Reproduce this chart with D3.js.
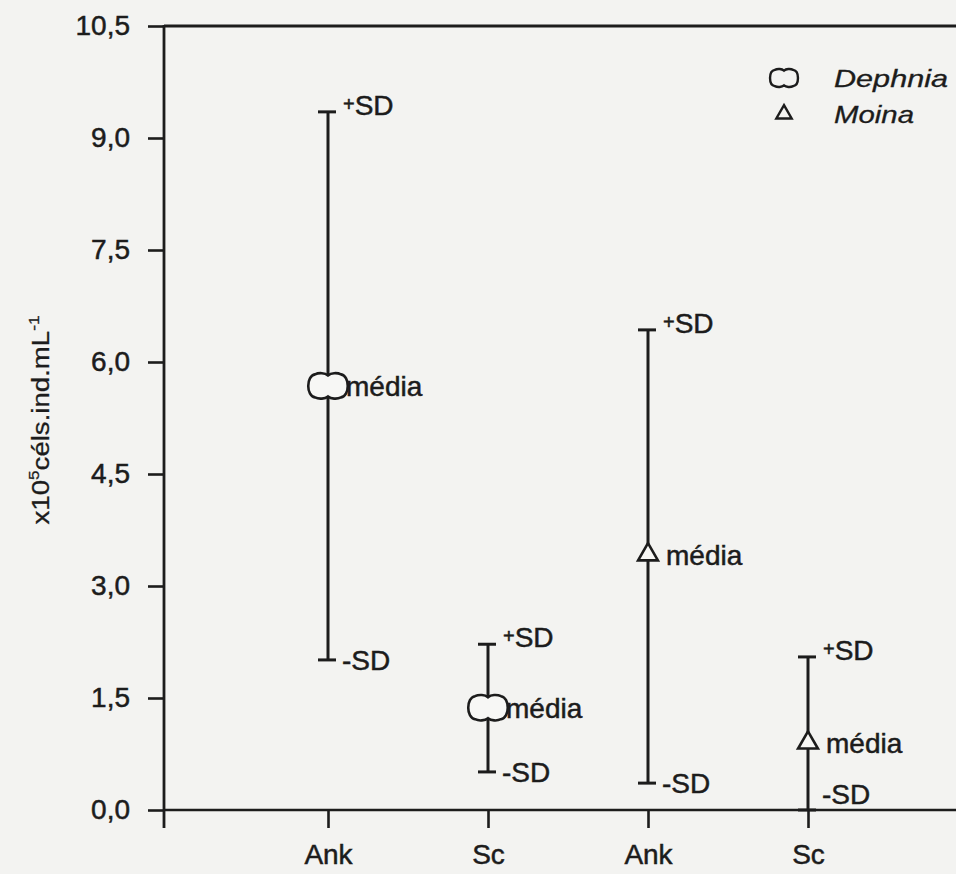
<!DOCTYPE html>
<html>
<head>
<meta charset="utf-8">
<script src="https://cdn.jsdelivr.net/npm/d3@7"></script>
<style>
  html, body { margin: 0; padding: 0; background: #f3f3f1; }
  svg { display: block; }
  text { font-family: "Liberation Sans", Arial, sans-serif; fill: #1c1c1c; }
</style>
</head>
<body>
<svg id="chart" width="956" height="874"></svg>
<script>
// Cell density per individual (x10^5 cells/ind/mL): mean ± SD per diet and species
const categories = ["Ank", "Sc", "Ank", "Sc"];
const species    = ["Daphnia", "Daphnia", "Moina", "Moina"];
const means      = [5.68, 1.37, 3.42, 0.90];
const upperSD    = [9.35, 2.22, 6.43, 2.05];
const lowerSD    = [2.01, 0.51, 0.36, 0.00];
const yTicks     = [0, 1.5, 3, 4.5, 6, 7.5, 9, 10.5];
const legendLabels  = ["Dephnia", "Moina"];
const legendSpecies = ["Daphnia", "Moina"];

const W = 956, H = 874;
const plotLeft = 164, plotTop = 26, plotBottom = 810;

const svg = d3.select("#chart");
const ink = "#1c1c1c";

const x = d3.scalePoint()
  .domain(d3.range(categories.length))
  .range([plotLeft + 4, plotLeft + 804])
  .padding(1);

const y = d3.scaleLinear()
  .domain([0, 10.5])
  .range([plotBottom, plotTop]);

// Rounded "cloud" marker used for Daphnia: a soft blob with a slight notch top and bottom
const cloudSymbol = {
  draw(ctx, size) {
    const k = Math.sqrt(size) / 40;
    ctx.moveTo(0, -10.5 * k);
    ctx.bezierCurveTo(3 * k, -13 * k, 9 * k, -13.5 * k, 13 * k, -11.5 * k);
    ctx.bezierCurveTo(22 * k, -10 * k, 22 * k, 10 * k, 13 * k, 11.5 * k);
    ctx.bezierCurveTo(9 * k, 13.5 * k, 3 * k, 13 * k, 0, 10.5 * k);
    ctx.bezierCurveTo(-3 * k, 13 * k, -9 * k, 13.5 * k, -13 * k, 11.5 * k);
    ctx.bezierCurveTo(-22 * k, 10 * k, -22 * k, -10 * k, -13 * k, -11.5 * k);
    ctx.bezierCurveTo(-9 * k, -13.5 * k, -3 * k, -13 * k, 0, -10.5 * k);
    ctx.closePath();
  }
};
const markerType = s => s === "Daphnia" ? cloudSymbol : d3.symbolTriangle;
const markerSize = (s, scale) => (s === "Daphnia" ? 1600 : 170) * scale;

// Y axis
const yAxis = d3.axisLeft(y)
  .tickValues(yTicks)
  .tickSize(16)
  .tickPadding(18)
  .tickFormat(d => d3.format(".1f")(d).replace(".", ","));

const gy = svg.append("g")
  .attr("transform", `translate(${plotLeft},0)`)
  .call(yAxis);
gy.select(".domain").remove();
gy.selectAll(".tick line").attr("stroke", ink).attr("stroke-width", 2.6);
gy.selectAll(".tick text")
  .attr("font-size", 28)
  .attr("fill", ink)
  .attr("stroke", ink).attr("stroke-width", 0.5);

// X axis
const xAxis = d3.axisBottom(x)
  .tickSize(18)
  .tickPadding(16)
  .tickFormat(i => categories[i]);

const gx = svg.append("g")
  .attr("transform", `translate(0,${plotBottom})`)
  .call(xAxis);
gx.select(".domain").remove();
gx.selectAll(".tick line").attr("stroke", ink).attr("stroke-width", 2.6);
gx.selectAll(".tick text")
  .attr("font-size", 28)
  .attr("fill", ink)
  .attr("stroke", ink).attr("stroke-width", 0.5);

// Frame lines: left axis (extends below zero), bottom axis and top border
svg.append("line")
  .attr("x1", plotLeft).attr("x2", plotLeft)
  .attr("y1", y(10.5) - 1).attr("y2", plotBottom + 18)
  .attr("stroke", ink).attr("stroke-width", 2.8);
svg.append("line")
  .attr("x1", plotLeft).attr("x2", W)
  .attr("y1", y(0)).attr("y2", y(0))
  .attr("stroke", ink).attr("stroke-width", 2.6);
svg.append("line")
  .attr("x1", plotLeft).attr("x2", W)
  .attr("y1", y(10.5)).attr("y2", y(10.5))
  .attr("stroke", ink).attr("stroke-width", 2.8);

// Y axis title
const yTitle = svg.append("text")
  .attr("transform", "translate(49,420) rotate(-90) scale(1.15,1)")
  .attr("text-anchor", "middle")
  .attr("font-size", 24)
  .attr("stroke", ink).attr("stroke-width", 0.3);
yTitle.append("tspan").text("x10");
yTitle.append("tspan").attr("font-size", 15).attr("dy", -10).text("5");
yTitle.append("tspan").attr("dy", 10).text("céls.ind.mL");
yTitle.append("tspan").attr("font-size", 15).attr("dy", -10).text("-1");

// Error bars
const rows = d3.range(categories.length).map(i => ({
  i, sp: species[i], m: means[i], hi: upperSD[i], lo: lowerSD[i]
}));

const bars = svg.append("g").selectAll("g").data(rows).join("g");

bars.append("line")
  .attr("x1", d => x(d.i)).attr("x2", d => x(d.i))
  .attr("y1", d => y(d.hi)).attr("y2", d => y(d.lo))
  .attr("stroke", ink).attr("stroke-width", 3);

bars.append("line")
  .attr("x1", d => x(d.i) - 10).attr("x2", d => x(d.i) + 8)
  .attr("y1", d => y(d.hi)).attr("y2", d => y(d.hi))
  .attr("stroke", ink).attr("stroke-width", 3);

bars.append("line")
  .attr("x1", d => x(d.i) - 10).attr("x2", d => x(d.i) + 8)
  .attr("y1", d => y(d.lo)).attr("y2", d => y(d.lo))
  .attr("stroke", ink).attr("stroke-width", 3);

// Mean markers
bars.append("path")
  .attr("transform", d => `translate(${x(d.i)},${y(d.m)})`)
  .attr("d", d => d3.symbol().type(markerType(d.sp)).size(markerSize(d.sp, 1))())
  .attr("fill", "#f7f7f5")
  .attr("stroke", ink).attr("stroke-width", 2.6);

// Annotations: +SD, média, -SD
const plusLab = bars.append("text")
  .attr("x", d => x(d.i) + 15)
  .attr("y", d => y(d.hi))
  .attr("dy", "0.36em")
  .attr("font-size", 28)
  .attr("stroke", ink).attr("stroke-width", 0.5);
plusLab.append("tspan").attr("font-size", 20).attr("dy", "-0.05em").text("+");
plusLab.append("tspan").attr("dy", "0.15em").text("SD");

bars.append("text")
  .attr("x", d => x(d.i) + 18)
  .attr("y", d => y(d.m))
  .attr("dy", "0.36em")
  .attr("font-size", 28)
  .attr("stroke", ink).attr("stroke-width", 0.5)
  .text("média");

bars.append("text")
  .attr("x", d => x(d.i) + 14)
  .attr("y", d => Math.min(y(d.lo), y(0) - 16))
  .attr("dy", "0.36em")
  .attr("font-size", 28)
  .attr("stroke", ink).attr("stroke-width", 0.5)
  .text("-SD");

// Legend
const legend = svg.append("g").selectAll("g")
  .data(legendLabels.map((t, j) => ({ t, sp: legendSpecies[j], j })))
  .join("g")
  .attr("transform", d => `translate(784,${78 + d.j * 36})`);

legend.append("path")
  .attr("d", d => d3.symbol().type(markerType(d.sp)).size(markerSize(d.sp, d.sp === "Daphnia" ? 0.5 : 0.6))())
  .attr("fill", "none")
  .attr("stroke", ink).attr("stroke-width", 2.4);

legend.append("text")
  .attr("x", 50)
  .attr("dy", "0.36em")
  .attr("font-size", 24)
  .attr("font-style", "italic")
  .attr("textLength", d => d.sp === "Daphnia" ? 114 : 80)
  .attr("lengthAdjust", "spacingAndGlyphs")
  .attr("stroke", ink).attr("stroke-width", 0.3)
  .text(d => d.t);
</script>
</body>
</html>
